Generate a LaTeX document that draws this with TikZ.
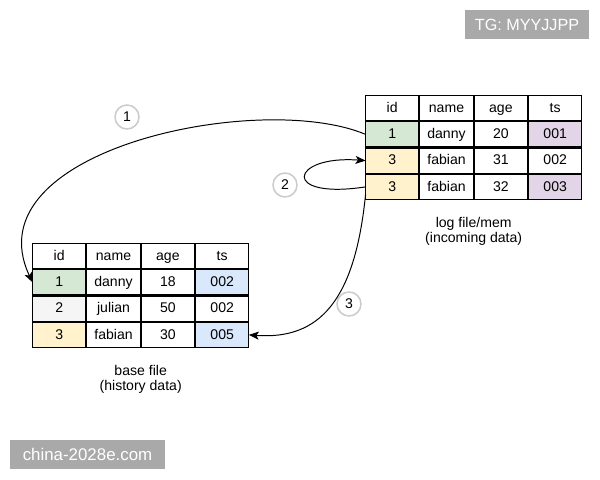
\documentclass[tikz,border=0pt]{standalone}
\usepackage{fontspec}
\setmainfont{Liberation Sans}
\usepackage{xcolor}
\usepackage{tikz}
\usetikzlibrary{arrows.meta,positioning,matrix,calc}
\definecolor{idgreen}{HTML}{D5E8D4}
\definecolor{idyellow}{HTML}{FFF2CC}
\definecolor{idgrey}{HTML}{F5F5F5}
\definecolor{tspurple}{HTML}{E1D5E7}
\definecolor{tsblue}{HTML}{DAE8FC}
\definecolor{markgrey}{HTML}{A9A9A9}

\begin{document}
\begin{tikzpicture}[
        x=0.025cm, y=-0.025cm,
        >={Stealth[length=0.25cm, width=0.2cm, inset=0.06cm]},
        % one record cell, tables are built from these
        cell/.style={rectangle, draw, line width=0.8pt, fill=white,
            minimum width=1.33cm, minimum height=0.628cm,
            inner sep=0pt, outer sep=0pt,
            text height=1.6ex, text depth=0.45ex,
            font=\fontsize{10}{12}\selectfont},
        rectab/.style={matrix of nodes, nodes={cell},
            column sep=0pt, row sep=0pt, inner sep=0pt, outer sep=0pt,
            anchor=north west},
        stepnum/.style={circle, draw=black!20, line width=1.1pt,
            minimum size=0.6cm, inner sep=0pt,
            font=\fontsize{10}{12}\selectfont},
        caption/.style={align=center, font=\fontsize{10}{10.7}\selectfont},
        watermark/.style={fill=markgrey, text=white, inner sep=0pt,
            minimum height=0.725cm}
    ]
        \useasboundingbox (0,0) rectangle (600,480);

        % incoming records
        \matrix[rectab] (logtab) at (365,95) {
            id & name & age & ts \\
            |[fill=idgreen]| 1 & danny & 20 & |[fill=tspurple]| 001 \\
            |[fill=idyellow]| 3 & fabian & 31 & 002 \\
            |[fill=idyellow]| 3 & fabian & 32 & |[fill=tspurple]| 003 \\
        };
        \node[caption, below=0.3cm of logtab] (logcap) {log file/mem\\(incoming data)};

        % history records
        \matrix[rectab] (basetab) at (32,243) {
            id & name & age & ts \\
            |[fill=idgreen]| 1 & danny & 18 & |[fill=tsblue]| 002 \\
            |[fill=idgrey]| 2 & julian & 50 & 002 \\
            |[fill=idyellow]| 3 & fabian & 30 & |[fill=tsblue]| 005 \\
        };
        \node[caption, below=0.3cm of basetab] (basecap) {base file\\(history data)};

        % numbered steps
        \node[stepnum] (num1) at (127,117) {1};
        \node[stepnum] (num2) at (285,185) {2};
        \node[stepnum] (num3) at (349,304) {3};

        % Connections
        \draw[->, line width=0.7pt] (logtab-2-1.west) .. controls (260,90) and (-30,150) .. (basetab-2-1.west);
        \draw[->, line width=0.7pt] (logtab-4-1.west) .. controls (280,200) and (290,155) .. (logtab-3-1.west);
        \draw[->, line width=0.7pt] ($(logtab-4-1.south west)+(0,-5)$) .. controls (355,300) and (320,340) .. (basetab-4-4.east);

        % marks on the page
        \node[watermark, minimum width=3.1cm, font=\fontsize{11.5}{13}\selectfont] (wmtop) at (527,24.5) {TG: MYYJJPP};
        \node[watermark, minimum width=3.875cm, font=\fontsize{12}{14}\selectfont] (wmbottom) at (87.5,454.5) {china-2028e.com};
\end{tikzpicture}
\end{document}
